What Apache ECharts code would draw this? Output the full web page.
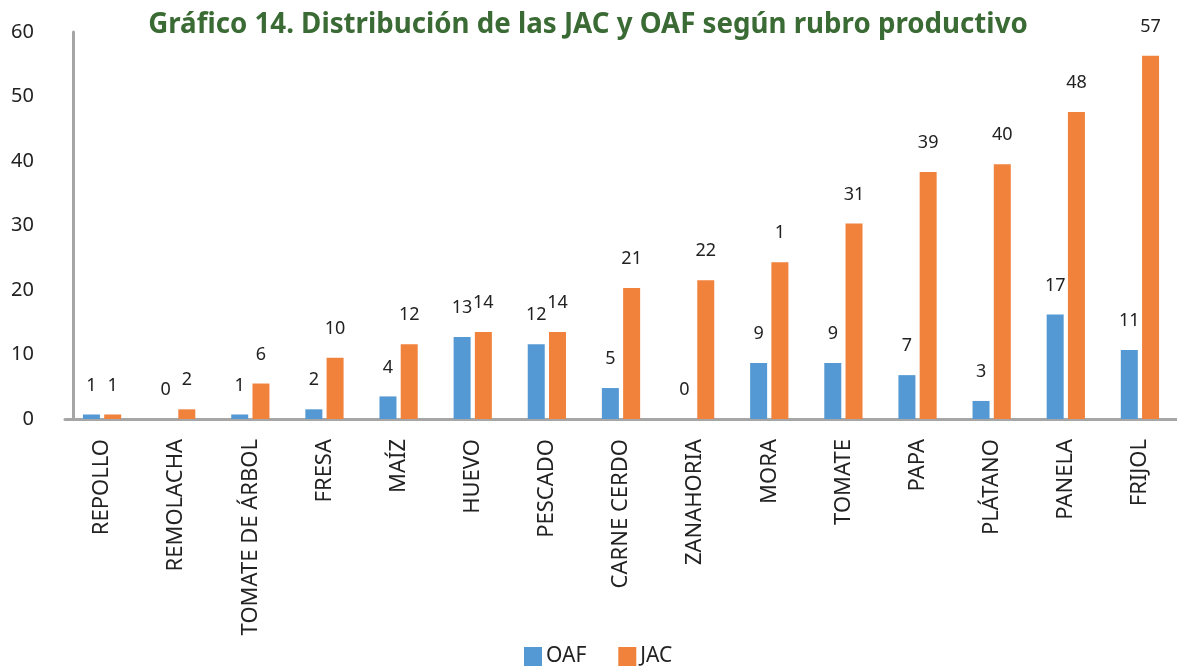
<!DOCTYPE html>
<html>
<head>
<meta charset="utf-8">
<script src="https://cdn.jsdelivr.net/npm/echarts@6/dist/echarts.min.js"></script>
<style>
  html, body { margin: 0; padding: 0; background: #fff; }
  #chart { width: 1177px; height: 669px; }
</style>
</head>
<body>
<div id="chart"></div>
<script>
// rubros productivos
const categories = ['REPOLLO', 'REMOLACHA', 'TOMATE DE ÁRBOL', 'FRESA', 'MAÍZ', 'HUEVO', 'PESCADO',
  'CARNE CERDO', 'ZANAHORIA', 'MORA', 'TOMATE', 'PAPA', 'PLÁTANO', 'PANELA', 'FRIJOL']
// alturas de barra
const oafValues = [0.7, 0, 0.7, 1.5, 3.5, 12.7, 11.6, 4.8, 0, 8.7, 8.7, 6.8, 2.8, 16.2, 10.7]
const jacValues = [0.7, 1.5, 5.5, 9.5, 11.6, 13.5, 13.5, 20.3, 21.5, 24.3, 30.3, 38.3, 39.5, 47.6, 56.3]
// etiquetas tal como aparecen
const oafLabels = ['1', '0', '1', '2', '4', '13', '12', '5', '0', '9', '9', '7', '3', '17', '11']
const jacLabels = ['1', '2', '6', '10', '12', '14', '14', '21', '22', '1', '31', '39', '40', '48', '57']
const yTicks = { min: 0, max: 60, interval: 10 }

const FONT = 'Noto Sans'
const chart = echarts.init(document.getElementById('chart'))

function barLabel (labels) {
  return {
    show: true,
    position: 'top',
    distance: 20,
    color: '#222',
    fontFamily: FONT,
    fontSize: 18,
    formatter: p => labels[p.dataIndex]
  }
}

const option = {
  animation: false,
  textStyle: { fontFamily: FONT },
  title: {
    text: 'Gráfico 14. Distribución de las JAC y OAF según rubro productivo',
    left: 583,
    textAlign: 'center',
    top: 6,
    textStyle: { color: '#3B6B34', fontSize: 27.7, fontWeight: 'bold', fontFamily: FONT }
  },
  legend: {
    bottom: -3,
    left: 519,
    itemWidth: 18,
    itemHeight: 19,
    itemGap: 32,
    icon: 'rect',
    textStyle: { color: '#222', fontSize: 21, fontFamily: FONT, padding: [0, 0, 0, -1] },
    data: ['OAF', 'JAC']
  },
  grid: { left: 65, right: -4, top: 32, bottom: 250 },
  xAxis: {
    type: 'category',
    data: categories,
    axisLine: { lineStyle: { color: '#A6A6A6', width: 3 } },
    axisTick: { show: false },
    axisLabel: { rotate: 90, color: '#222', fontSize: 22, fontFamily: FONT, margin: 20, interval: 0 }
  },
  yAxis: {
    type: 'value',
    min: yTicks.min,
    max: yTicks.max,
    interval: yTicks.interval,
    offset: -8,
    axisLine: { show: true, lineStyle: { color: '#A6A6A6', width: 3 } },
    axisTick: { show: false },
    splitLine: { show: false },
    axisLabel: { color: '#222', fontSize: 20, fontFamily: FONT, margin: 39 }
  },
  series: [
    {
      name: 'OAF',
      type: 'bar',
      data: oafValues,
      barWidth: 17,
      barGap: '25%',
      itemStyle: { color: '#5499D3' },
      label: barLabel(oafLabels)
    },
    {
      name: 'JAC',
      type: 'bar',
      data: jacValues,
      barWidth: 17,
      itemStyle: { color: '#F0823C' },
      label: barLabel(jacLabels)
    }
  ]
}
chart.setOption(option)
</script>
</body>
</html>
